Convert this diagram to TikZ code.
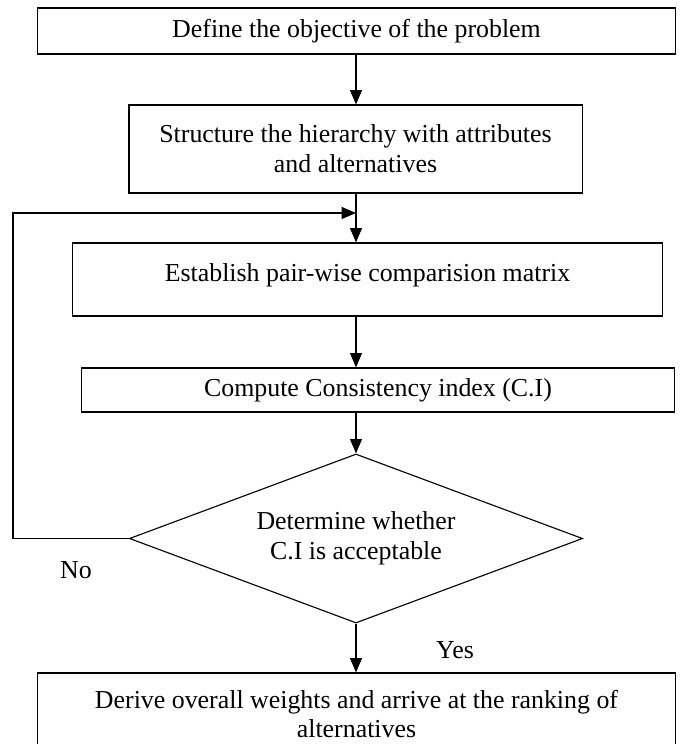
\documentclass[tikz,border=0pt]{standalone}
\usepackage{fontspec}
\setmainfont{Liberation Serif}
\usetikzlibrary{arrows.meta,positioning,shapes.geometric}
\newcommand{\flowfont}{\fontsize{18.4}{21.3}\selectfont}
\tikzset{
  stepbox/.style={draw=black,fill=white,line width=0.8pt,
                  inner sep=2pt,align=center,font=\flowfont},
  decision/.style={diamond,draw=black,fill=white,line width=0.8pt,
                   shape aspect=2.7,inner sep=0pt,align=center,font=\flowfont},
  answer/.style={inner sep=0pt,font=\flowfont},
  flowarr/.style={-{Triangle[length=3.6mm,width=3mm]},line width=0.8pt},
  flowline/.style={line width=0.8pt}
}

\begin{document}
\begin{tikzpicture}[x=0.025cm,y=-0.025cm]
  \useasboundingbox (0,0) rectangle (680,744);
  % steps of the procedure
  \node[stepbox,minimum width=15.925cm,minimum height=1.15cm] (objective) at (356.5,31)
    {Define the objective of the problem};
  \node[stepbox,minimum width=11.325cm,minimum height=2.2cm] (hierarchy) at (355.5,149)
    {Structure the hierarchy with attributes\\ and alternatives};
  \node[stepbox,minimum width=14.725cm,minimum height=1.825cm,text depth=0.35cm] (pairwise) at (367.5,279.5)
    {Establish pair-wise comparision matrix};
  \node[stepbox,minimum width=14.8cm,minimum height=1.1cm] (consistency) at (378,390)
    {Compute Consistency index (C.I)};
  \node[decision,minimum width=11.325cm,minimum height=4.225cm] (accept) at (356,538.5)
    {Determine whether\\ C.I is acceptable};
  \node[stepbox,minimum width=15.925cm,minimum height=2.05cm] (ranking) at (356.5,714)
    {Derive overall weights and arrive at the ranking of\\ alternatives};
  % answers
  \node[answer] (no) at (76,570) {No};
  \node[answer] (yes) at (455,650) {Yes};
  % loop back
  \coordinate (merge) at (356,213);
  \coordinate (loopx) at (13,0);
  % connectors
  \draw[flowarr] (objective.south -| accept) -- (hierarchy.north -| accept);
  \draw[flowarr] (hierarchy.south -| accept) -- (pairwise.north -| accept);
  \draw[flowarr] (pairwise.south -| accept) -- (consistency.north -| accept);
  \draw[flowarr] (consistency.south -| accept) -- (accept.north);
  \draw[flowarr] (accept.south) -- (ranking.north -| accept);
  \draw[flowarr] (accept.west) -- (accept.west -| loopx) |- (merge);
\end{tikzpicture}
\end{document}
